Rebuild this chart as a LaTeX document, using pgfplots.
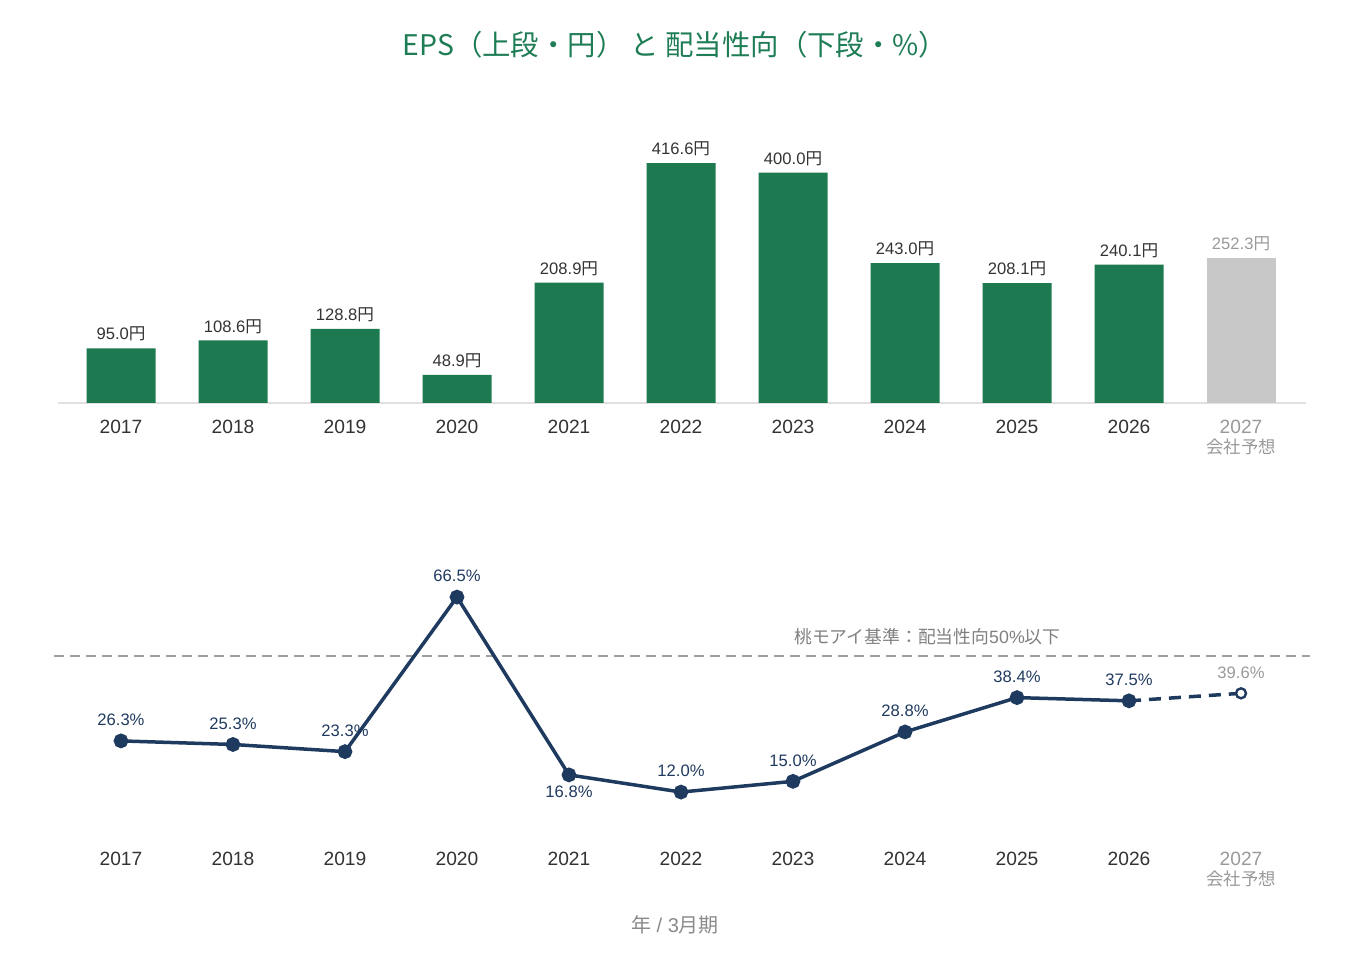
\documentclass[border=0pt]{standalone}
\usepackage{fontspec}
\setmainfont{Liberation Sans}
\newfontfamily\jp{Noto Sans CJK JP}
\usepackage{pgfplots}
\pgfplotsset{compat=1.18}
\definecolor{barg}{HTML}{1D7A50}
\definecolor{titleg}{HTML}{1E7D55}
\definecolor{bargray}{HTML}{C8C8C8}
\definecolor{navy}{HTML}{1F3A5F}
\definecolor{txt}{HTML}{333333}
\definecolor{lgray}{HTML}{999999}
\definecolor{refgray}{HTML}{A0A0A0}
\definecolor{axgray}{HTML}{E0E0E0}
\begin{document}
\begin{tikzpicture}[x=1pt,y=1pt]
\path[use as bounding box] (0,0) rectangle (675,480);
\node[text=titleg, font=\fontsize{14.2}{16}\selectfont\jp] at (337.5,457.5) {EPS（上段・円） と 配当性向（下段・\%）};
\node[text=lgray!90!black, font=\fontsize{10}{12}\selectfont] at (337.5,17.5) {{\jp 年} / 3{\jp 月期}};

\begin{axis}[
  at={(29pt,278.5pt)}, anchor=south west, scale only axis,
  width=624pt, height=131.5pt,
  xmin=-0.5625, xmax=10.58, ymin=0, ymax=456.6,
  axis y line=none, axis x line*=bottom,
  x axis line style={draw=axgray, line width=0.6pt, -},
  xtick={0,...,10}, xtick style={draw=none},
  xticklabels={2017,2018,2019,2020,2021,2022,2023,2024,2025,2026,{\textcolor{lgray}{2027}\\\textcolor{lgray}{\fontsize{8.7}{10}\selectfont\jp 会社予想}}},
  xticklabel style={align=center, text=txt, font=\fontsize{9.6}{10}\selectfont, yshift=-5pt},
  /pgf/number format/.cd, fixed, fixed zerofill, precision=1, assume math mode=true,
  /pgfplots/.cd,
  nodes near coords style={font=\fontsize{8.3}{10}\selectfont},
  clip=false,
]
\addplot[ybar, bar shift=0pt, bar width=34.5pt, fill=barg, draw=none,
  nodes near coords={\pgfmathprintnumber{\pgfplotspointmeta}{\jp 円}},
  nodes near coords style={text=txt}]
  coordinates {(0,95.0)(1,108.6)(2,128.8)(3,48.9)(4,208.9)(5,416.6)(6,400.0)(7,243.0)(8,208.1)(9,240.1)};
\addplot[ybar, bar shift=0pt, bar width=34.5pt, fill=bargray, draw=none,
  nodes near coords={\pgfmathprintnumber{\pgfplotspointmeta}{\jp 円}},
  nodes near coords style={text=lgray}]
  coordinates {(10,252.3)};
\end{axis}

\begin{axis}[
  at={(27pt,62.5pt)}, anchor=south west, scale only axis,
  width=628pt, height=137.5pt,
  xmin=-0.598, xmax=10.616, ymin=0, ymax=76.86,
  axis y line=none, axis x line*=bottom,
  x axis line style={draw=none},
  xtick={0,...,10}, xtick style={draw=none},
  xticklabels={2017,2018,2019,2020,2021,2022,2023,2024,2025,2026,{\textcolor{lgray}{2027}\\\textcolor{lgray}{\fontsize{8.7}{10}\selectfont\jp 会社予想}}},
  xticklabel style={align=center, text=txt, font=\fontsize{9.6}{10}\selectfont, yshift=-5pt},
  /pgf/number format/.cd, fixed, fixed zerofill, precision=1, assume math mode=true,
  /pgfplots/.cd,
  nodes near coords style={font=\fontsize{8.3}{10}\selectfont},
  clip=false,
]
\addplot[refgray, line width=1.1pt, dash pattern=on 5pt off 3pt] coordinates {(-0.598,50)(10.616,50)};
\node[text=gray, font=\fontsize{8.9}{10}\selectfont] at (axis cs:7.2,55.3) {{\jp 桃モアイ基準：配当性向}50\%{\jp 以下}};
\addplot[navy, line width=1.75pt, dash pattern=on 6pt off 4pt] coordinates {(9,37.5)(10,39.6)};
\addplot[navy, line width=1.75pt, mark=*, mark size=2.8pt, mark options={fill=navy}]
  coordinates {(0,26.3)(1,25.3)(2,23.3)(3,66.5)(4,16.8)(5,12.0)(6,15.0)(7,28.8)(8,38.4)(9,37.5)};
\addplot[only marks, mark=*, mark size=2.5pt, mark options={fill=white, draw=navy, line width=1.2pt}]
  coordinates {(10,39.6)};
\addplot[draw=none, nodes near coords={\pgfmathprintnumber{\pgfplotspointmeta}\%},
  nodes near coords style={text=navy, yshift=4pt}]
  coordinates {(0,26.3)(1,25.3)(2,23.3)(3,66.5)(5,12.0)(6,15.0)(7,28.8)(8,38.4)(9,37.5)};
\addplot[draw=none, nodes near coords={\pgfmathprintnumber{\pgfplotspointmeta}\%},
  nodes near coords align={below},
  nodes near coords style={text=navy, yshift=-2pt}]
  coordinates {(4,16.8)};
\addplot[draw=none, nodes near coords={\pgfmathprintnumber{\pgfplotspointmeta}\%},
  nodes near coords style={text=lgray, yshift=4pt}]
  coordinates {(10,39.6)};
\end{axis}
\end{tikzpicture}
\end{document}
